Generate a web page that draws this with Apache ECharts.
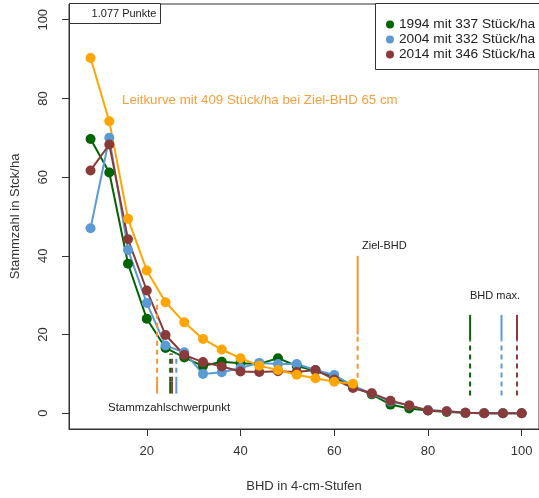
<!DOCTYPE html>
<html>
<head>
<meta charset="utf-8">
<script src="https://cdn.jsdelivr.net/npm/echarts@6/dist/echarts.min.js"></script>
<style>
  html, body { margin: 0; padding: 0; background: #fff; }
  #chart { width: 539px; height: 498px; }
</style>
</head>
<body>
<div id="chart"></div>
<script>
// BHD-Stufen (4-cm-Stufen, Klassenmitte)
const bhdStufen = [8, 12, 16, 20, 24, 28, 32, 36, 40, 44, 48, 52, 56, 60, 64, 68, 72, 76, 80, 84, 88, 92, 96, 100];

// Stammzahl je ha
const n1994 = [69.7, 61.2, 38.0, 24.0, 16.6, 14.2, 12.0, 13.1, 12.7, 12.5, 14.0, 12.0, 10.8, 9.2, 6.8, 4.8, 2.2, 1.2, 0.7, 0.3, 0.1, 0, 0, 0];
const n2004 = [47.0, 70.0, 41.5, 28.0, 17.2, 15.5, 10.0, 10.4, 11.5, 12.8, 12.5, 12.5, 11.0, 9.7, 7.0, 5.0, 3.0, 2.0, 0.8, 0.5, 0.1, 0, 0, 0];
const n2014 = [61.7, 68.3, 44.2, 31.2, 19.9, 14.8, 13.0, 11.9, 10.6, 10.5, 10.7, 10.5, 11.0, 8.6, 6.4, 5.1, 3.2, 2.0, 0.7, 0.5, 0.1, 0, 0, 0];
// Leitkurve bis Ziel-BHD
const leitkurve = [90.3, 74.2, 49.4, 36.3, 28.2, 23.1, 18.9, 16.2, 14.0, 12.1, 11.0, 9.8, 8.9, 8.0, 7.5];

const serienNamen = ['1994 mit 337 Stück/ha', '2004 mit 332 Stück/ha', '2014 mit 346 Stück/ha'];

// Stammzahlschwerpunkt (1994, 2004, 2014) und Leitkurve
const schwerpunktX = [25.0, 26.3, 25.4];
const schwerpunktTop = [15.2, 15.2, 15.2];
const schwerpunktLeitX = 22.2;
const schwerpunktLeitTop = 29.0;
// BHD max. (1994, 2004, 2014)
const bhdMaxX = [89.0, 95.7, 99.0];
const zielBhd = 65;

const xTicks = [20, 40, 60, 80, 100];
const yTicks = [0, 20, 40, 60, 80, 100];

const GREEN = '#006400', BLUE = '#5b9bd5', BROWN = '#8b3a3a', ORANGE = '#ffa500', ORANGE2 = '#f39530';
const FONT = '"Liberation Sans", Arial, sans-serif';

const chart = echarts.init(document.getElementById('chart'));

const kurve = (name, ys, color) => ({
  name: name,
  type: 'line',
  data: ys.map((y, i) => [bhdStufen[i], y]),
  symbol: 'circle',
  symbolSize: 10,
  lineStyle: { color: color, width: 2 },
  itemStyle: { color: color },
  silent: true,
  animation: false
});

const vline = (x, y0, y1, color, dashed) => ({
  type: 'line',
  data: [[x, y0], [x, y1]],
  symbol: 'none',
  lineStyle: { color: color, width: 2, type: dashed ? [5, 4] : 'solid' },
  silent: true,
  animation: false
});

const series = [
  kurve(serienNamen[0], n1994, GREEN),
  kurve(serienNamen[1], n2004, BLUE),
  kurve(serienNamen[2], n2014, BROWN),
  kurve('Leitkurve', leitkurve, ORANGE)
];

const farben = [GREEN, BLUE, BROWN];
schwerpunktX.forEach((x, i) => {
  series.push(vline(x, 5, 8, farben[i], false));
  series.push(vline(x, 8, schwerpunktTop[i], farben[i], true));
});
series.push(vline(schwerpunktLeitX, 5, 8, ORANGE2, false));
series.push(vline(schwerpunktLeitX, 8, schwerpunktLeitTop, ORANGE2, true));

bhdMaxX.forEach((x, i) => {
  series.push(vline(x, 4.5, 18.5, farben[i], true));
  series.push(vline(x, 18.5, 25, farben[i], false));
});

series.push(vline(zielBhd, 9, 20, ORANGE2, true));
series.push(vline(zielBhd, 20, 40, ORANGE2, false));

const option = {
  animation: false,
  grid: {
    left: 69, top: 4, width: 474, height: 425,
    show: true, borderColor: '#333', borderWidth: 1, backgroundColor: 'transparent'
  },
  xAxis: {
    type: 'value',
    min: 3.4,
    max: 103.7,
    name: 'BHD in 4-cm-Stufen',
    nameLocation: 'middle',
    nameGap: 51,
    nameTextStyle: { fontSize: 13, color: '#333', fontFamily: FONT },
    axisLine: { show: true, onZero: false, lineStyle: { color: '#333', width: 1 } },
    axisTick: { show: true, length: 7, customValues: xTicks, lineStyle: { color: '#333' } },
    axisLabel: { customValues: xTicks, margin: 16, fontSize: 13, color: '#333', fontFamily: FONT },
    splitLine: { show: false }
  },
  yAxis: {
    type: 'value',
    min: -4,
    max: 104,
    name: 'Stammzahl in Stck/ha',
    nameLocation: 'middle',
    nameGap: 47,
    nameTextStyle: { fontSize: 13, color: '#333', fontFamily: FONT },
    axisLine: { show: true, onZero: false, lineStyle: { color: '#333', width: 1 } },
    axisTick: { show: true, length: 7, customValues: yTicks, lineStyle: { color: '#333' } },
    axisLabel: { customValues: yTicks, rotate: 90, margin: 19, fontSize: 13, color: '#333', fontFamily: FONT },
    splitLine: { show: false }
  },
  legend: {
    data: serienNamen,
    orient: 'vertical',
    left: 375,
    top: 6,
    padding: [11, 0, 8, 11],
    itemGap: 0,
    itemWidth: 8,
    itemHeight: 8,
    itemTextGap: 10,
    icon: 'circle',
    borderWidth: 0,
    selectedMode: false,
    z: 12,
    textStyle: { fontSize: 13.7, lineHeight: 15, color: '#222', fontFamily: FONT }
  },
  graphic: [
    // Legendenrahmen (rechts über den Bildrand hinaus)
    { type: 'rect', shape: { x: 375.5, y: 3.5, width: 200, height: 66 },
      style: { fill: '#fff', stroke: '#333', lineWidth: 1 }, z: 10 },
    { type: 'rect', shape: { x: 69.5, y: 3.5, width: 91, height: 20 },
      style: { fill: '#fff', stroke: '#333', lineWidth: 1 }, z: 10 },
    { type: 'text', x: 124, y: 14, z: 11,
      style: { text: '1.077 Punkte', fontSize: 11, fontFamily: FONT, fill: '#222', align: 'center', verticalAlign: 'middle' } },
    { type: 'text', x: 122, y: 100, z: 11,
      style: { text: 'Leitkurve mit 409 Stück/ha bei Ziel-BHD 65 cm', fontSize: 13.3, fontFamily: FONT, fill: '#f4a03c', verticalAlign: 'middle' } },
    { type: 'text', x: 362, y: 246, z: 11,
      style: { text: 'Ziel-BHD', fontSize: 11, fontFamily: FONT, fill: '#222', verticalAlign: 'middle' } },
    { type: 'text', x: 470, y: 296, z: 11,
      style: { text: 'BHD max.', fontSize: 11, fontFamily: FONT, fill: '#222', verticalAlign: 'middle' } },
    { type: 'text', x: 108, y: 408, z: 11,
      style: { text: 'Stammzahlschwerpunkt', fontSize: 11.5, fontFamily: FONT, fill: '#222', verticalAlign: 'middle' } }
  ],
  series: series
};

chart.setOption(option);
window.addEventListener('resize', () => chart.resize());
</script>
</body>
</html>
